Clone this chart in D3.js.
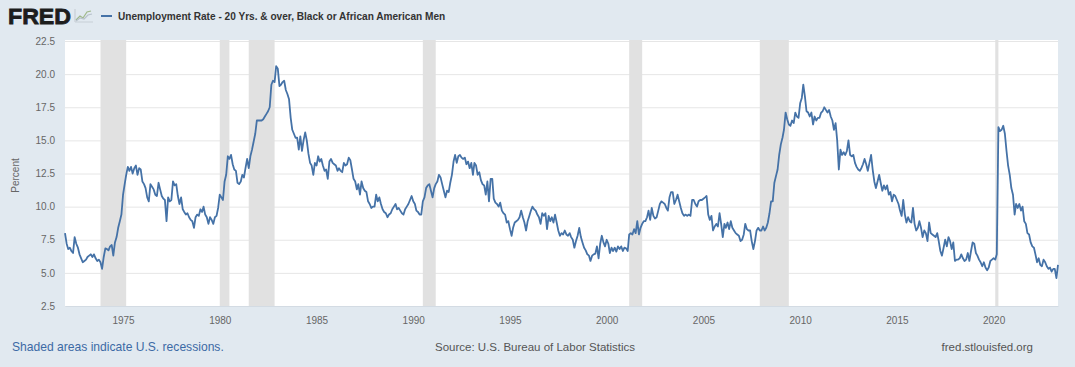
<!DOCTYPE html>
<html>
<head>
<meta charset="utf-8">
<script src="https://cdn.jsdelivr.net/npm/d3@7"></script>
<style>
  html, body { margin: 0; padding: 0; background: #e1e9f0; }
  svg { display: block; font-family: "Liberation Sans", Arial, sans-serif; }
</style>
</head>
<body>
<svg id="chart"></svg>
<script>
// monthly values, Jan 1972 .. May 2023
const startYear = 1972;
const rates1970s = [
  8.0, 7.2, 6.8, 6.9, 6.65, 6.5, 7.7, 7.2, 6.9, 6.4, 6.1, 5.8,
  5.9, 6.0, 6.2, 6.3, 6.4, 6.2, 6.4, 6.1, 5.9, 6.0, 5.8, 5.3,
  6.2, 6.85, 6.8, 6.7, 7.0, 7.1, 6.3, 7.3, 7.7, 8.4, 8.9, 9.4,
  10.9, 11.7, 12.4, 13.0, 12.7, 13.0, 12.5, 12.9, 13.1, 12.4, 12.9, 12.8,
  11.9, 11.7, 11.4, 10.7, 10.4, 11.7, 11.5, 11.3, 10.9, 10.8, 11.8, 11.3,
  10.8, 10.6, 10.5, 8.9, 10.7, 10.4, 10.5, 11.9, 11.6, 11.7, 10.8, 10.2,
  10.7, 9.8, 9.6, 9.4, 9.5, 9.2, 9.0, 8.9, 8.4, 9.2, 9.4, 9.3,
  9.8, 9.6, 10.0, 9.4, 9.2, 8.7, 9.2, 9.0, 8.7, 9.2, 9.3, 9.9
];
const rates1980s = [
  10.9, 10.7, 10.5, 11.9, 12.4, 13.8, 13.6, 13.9, 13.2, 12.8, 12.7, 11.8,
  11.7, 11.9, 12.4, 12.2, 12.9, 13.6, 12.9, 13.8, 14.3, 14.9, 15.5, 16.5,
  16.5, 16.5, 16.5, 16.6, 16.8, 17.0, 17.2, 17.5, 19.2, 19.5, 19.4, 20.6,
  20.4, 19.1, 19.2, 19.4, 19.5, 18.8, 18.5, 18.1, 16.7, 15.8, 15.5, 15.2,
  15.2, 14.3, 15.3, 14.2, 15.0, 15.6, 15.0, 14.0, 13.3, 13.1, 12.4, 13.3,
  13.1, 13.8, 13.4, 13.6, 13.1, 12.7, 12.8, 12.1, 13.4, 13.6, 13.3, 13.2,
  13.1, 12.7, 12.9, 12.7, 12.6, 13.3, 13.1, 13.2, 13.7, 13.5, 12.8, 12.1,
  11.9, 11.3, 11.7, 10.9, 11.9, 11.4, 11.2, 11.1, 10.4, 10.2, 9.9, 10.0,
  10.0, 10.9, 10.4, 10.7, 10.2, 9.8, 9.6, 9.5, 9.2, 9.4, 9.5, 9.8,
  10.0, 10.2, 9.8, 9.9, 9.7, 9.5, 9.4, 9.8, 10.0, 10.2, 10.5, 10.8
];
const rates1990s = [
  10.4, 10.2, 9.7, 9.6, 9.4, 9.4, 10.4, 10.7, 11.4, 11.6, 11.7, 11.2,
  10.7, 11.4, 11.7, 11.9, 12.4, 12.2, 11.7, 11.2, 10.7, 11.2, 11.1, 11.8,
  12.4, 13.4, 13.9, 13.3, 13.8, 13.9, 13.7, 13.6, 13.7, 13.2, 13.4, 12.9,
  13.3, 12.4, 13.3, 13.1, 12.4, 12.6, 12.0, 11.7, 11.6, 10.9, 11.9, 10.4,
  12.1, 12.1, 10.6, 10.3, 10.2, 10.0, 10.3, 9.7, 9.5, 9.4, 8.8, 8.9,
  8.3, 7.8, 8.4, 8.8, 8.9, 9.0, 9.2, 9.7, 9.2, 8.8, 8.2, 8.9,
  9.3, 9.7, 10.0, 9.8, 9.7, 9.4, 9.2, 8.7, 9.5, 9.3, 9.5, 8.3,
  9.3, 8.9, 9.2, 8.8, 9.4, 8.8, 8.2, 7.8, 8.0, 7.9, 8.2, 7.9,
  7.8, 8.0, 7.7, 7.5, 6.9, 7.4, 7.8, 8.4, 7.7, 7.3, 6.9, 6.7,
  6.4, 6.3, 5.9, 6.3, 6.4, 6.45, 7.0, 6.1, 7.2, 7.8, 7.3, 7.0
];
const rates2000s = [
  7.5, 7.2, 6.5, 6.9, 6.65, 6.9, 6.6, 7.0, 6.8, 7.0, 6.65, 6.9,
  6.85, 6.65, 7.9, 8.0, 7.9, 8.3, 8.0, 8.9, 7.9, 8.4, 8.7, 8.9,
  8.9, 9.2, 9.7, 9.0, 9.9, 9.3, 9.1, 9.2, 9.7, 10.2, 10.4, 10.3,
  10.2, 9.9, 9.7, 10.7, 11.1, 11.1, 10.2, 10.5, 10.9, 10.4, 9.9, 9.5,
  9.3, 9.4, 9.3, 9.4, 9.3, 10.5, 10.5, 10.2, 10.0, 10.4, 10.5, 10.5,
  10.6, 10.7, 10.8, 9.4, 9.0, 9.3, 8.2, 8.5, 8.7, 8.5, 9.5, 8.7,
  7.7, 8.7, 8.4, 8.8, 8.3, 8.9, 8.4, 8.2, 8.0, 7.9, 7.8, 7.4,
  7.5, 7.9, 8.7, 8.3, 8.2, 8.2, 7.4, 6.8, 7.4, 8.2, 8.4, 8.2,
  8.2, 8.5, 8.2, 8.4, 8.8, 9.5, 10.4, 10.4, 11.8, 12.3, 12.8, 13.9,
  14.7, 15.2, 15.8, 17.1, 16.6, 16.2, 16.1, 16.5, 16.3, 17.1, 16.8, 16.7
];
const rates2010s = [
  17.8, 18.2, 19.2, 18.3, 17.2, 17.1, 16.8, 17.1, 16.2, 16.8, 16.5, 16.7,
  16.7, 17.1, 17.2, 17.5, 17.3, 17.1, 17.3, 16.8, 16.5, 15.8, 16.3, 15.0,
  12.8, 14.3, 13.9, 14.1, 13.9, 14.2, 15.0, 13.9, 13.8, 13.9, 13.3, 13.0,
  12.8, 12.7, 12.9, 13.2, 13.6, 13.2, 12.7, 13.3, 13.9, 12.8, 11.9, 11.4,
  11.9, 12.4, 11.8, 11.2, 11.6, 11.3, 11.6, 10.9, 11.1, 10.4, 10.9, 10.8,
  10.5, 10.2, 9.7, 9.3, 10.5, 9.4, 8.8, 9.2, 8.9, 8.8, 9.9, 8.7,
  8.2, 8.4, 8.9, 8.4, 7.7, 8.2, 8.0, 7.4, 8.8, 8.0, 7.9, 7.8,
  7.7, 8.0, 7.4, 6.65, 6.3, 6.9, 7.5, 7.0, 7.7, 7.4, 6.8, 7.3,
  5.9, 6.0, 6.0, 6.1, 6.4, 6.1, 5.9, 6.0, 6.5, 5.9, 6.65, 7.3,
  7.2, 6.5, 6.3, 6.0, 5.8, 5.5, 5.8, 5.4, 5.2, 5.4, 5.9, 6.0
];
const rates2020s = [
  6.1, 6.0, 6.4, 16.0, 15.7, 15.8, 16.1, 15.5, 14.2, 13.1, 12.4, 11.4,
  10.9, 9.4, 10.2, 9.9, 10.2, 9.7, 10.0, 8.9, 8.7, 8.0, 7.9, 7.3,
  7.0, 6.9, 6.4, 5.8, 6.1, 5.6, 5.5, 6.0, 5.8, 5.5, 5.3, 5.4,
  5.1, 5.3, 5.3, 4.6, 5.6
];

// NBER recessions as FRED shades them (first month, last month)
const recessionStarts = ["1973-11", "1980-01", "1981-07", "1990-07", "2001-03", "2007-12", "2020-02"];
const recessionEnds   = ["1975-03", "1980-07", "1982-11", "1991-03", "2001-11", "2009-06", "2020-04"];

const yTicks = [2.5, 5, 7.5, 10, 12.5, 15, 17.5, 20, 22.5];
const xTickYears = [1975, 1980, 1985, 1990, 1995, 2000, 2005, 2010, 2015, 2020];

const seriesTitle = "Unemployment Rate - 20 Yrs. & over, Black or African American Men";

const width = 1075, height = 367;
const plotLeft = 65, plotRight = 1058, plotTop = 41, plotBottom = 306;

const rates = [...rates1970s, ...rates1980s, ...rates1990s, ...rates2000s, ...rates2010s, ...rates2020s];
const data = rates.map((v, i) => ({date: new Date(startYear, i, 1), value: v}));
const parseMonth = d3.timeParse("%Y-%m");

const svg = d3.select("#chart")
    .attr("width", width)
    .attr("height", height)
    .attr("viewBox", [0, 0, width, height]);

svg.append("rect")
    .attr("width", width).attr("height", height)
    .attr("fill", "#e1e9f0");

const x = d3.scaleTime()
    .domain([data[0].date, data[data.length - 1].date])
    .range([plotLeft, plotRight]);
const y = d3.scaleLinear()
    .domain([2.5, 22.5])
    .range([plotBottom, plotTop]);

// plot background
svg.append("rect")
    .attr("x", plotLeft).attr("y", plotTop - 1)
    .attr("width", plotRight - plotLeft).attr("height", plotBottom - plotTop + 1)
    .attr("fill", "#ffffff");

// grid + y labels
const yAxis = svg.append("g")
    .attr("transform", `translate(${plotLeft},0)`)
    .call(d3.axisLeft(y).tickValues(yTicks).tickFormat(d3.format(".1f"))
        .tickSize(-(plotRight - plotLeft)).tickPadding(10));
yAxis.select(".domain").remove();
yAxis.selectAll(".tick line").attr("stroke", "#e6e6e6");
yAxis.selectAll(".tick text")
    .attr("fill", "#666")
    .attr("font-size", 10)
    .attr("font-family", "Liberation Sans, Arial, sans-serif");

// recession shading
svg.append("g")
    .selectAll("rect")
    .data(recessionStarts.map((s, i) => [parseMonth(s), parseMonth(recessionEnds[i])]))
    .join("rect")
    .attr("x", d => x(d[0]))
    .attr("y", plotTop - 1)
    .attr("width", d => x(d[1]) - x(d[0]))
    .attr("height", plotBottom - plotTop + 1)
    .attr("fill", "#e1e1e1");

// x axis
const xAxis = svg.append("g")
    .attr("transform", `translate(0,${plotBottom})`)
    .call(d3.axisBottom(x).tickValues(xTickYears.map(yr => new Date(yr, 0, 1)))
        .tickFormat(d3.timeFormat("%Y")).tickSize(0).tickPadding(11));
xAxis.select(".domain").attr("stroke", "#d3dbe3");
xAxis.selectAll(".tick text")
    .attr("fill", "#666")
    .attr("font-size", 10)
    .attr("font-family", "Liberation Sans, Arial, sans-serif");

// the series
const line = d3.line()
    .x(d => x(d.date))
    .y(d => y(d.value));
svg.append("path")
    .datum(data)
    .attr("fill", "none")
    .attr("stroke", "#4572a7")
    .attr("stroke-width", 1.8)
    .attr("stroke-linejoin", "round")
    .attr("d", line);

// y title
svg.append("text")
    .attr("transform", `translate(19,${(plotTop + plotBottom) / 2 + 2}) rotate(-90)`)
    .attr("text-anchor", "middle")
    .attr("font-size", 10)
    .attr("fill", "#666")
    .text("Percent");

// header: logo, legend, title
svg.append("text")
    .attr("x", 8).attr("y", 24)
    .attr("font-size", 22)
    .attr("font-weight", "bold")
    .attr("fill", "#1d1d1d")
    .attr("stroke", "#1d1d1d")
    .attr("stroke-width", 0.8)
    .attr("textLength", 63)
    .attr("lengthAdjust", "spacingAndGlyphs")
    .text("FRED");
const icon = svg.append("g").attr("fill", "none").attr("stroke-width", 1.2);
icon.append("path").attr("d", "M75,22 L93,22 M75,22 L75,9").attr("stroke", "#c8cfd6");
icon.append("path").attr("d", "M76,20 L80,16 L83,18 L87,12 L91,11").attr("stroke", "#9fb88a");
icon.append("path").attr("d", "M76,21 L80,18 L84,19 L88,15 L92,14").attr("stroke", "#b8c2cc");

svg.append("line")
    .attr("x1", 101).attr("x2", 112)
    .attr("y1", 16).attr("y2", 16)
    .attr("stroke", "#4572a7")
    .attr("stroke-width", 2);
svg.append("text")
    .attr("x", 118).attr("y", 19.5)
    .attr("font-size", 10.1)
    .attr("font-weight", "bold")
    .attr("fill", "#333")
    .text(seriesTitle);

// footer
const footer = svg.append("g");
footer.append("text")
    .attr("x", 12).attr("y", 351)
    .attr("font-size", 12.1)
    .attr("fill", "#3c6aa5")
    .text("Shaded areas indicate U.S. recessions.");
footer.append("text")
    .attr("x", 435).attr("y", 351)
    .attr("font-size", 11.5)
    .attr("fill", "#555")
    .text("Source: U.S. Bureau of Labor Statistics");
footer.append("text")
    .attr("x", 1033).attr("y", 351)
    .attr("font-size", 11.5)
    .attr("text-anchor", "end")
    .attr("fill", "#555")
    .text("fred.stlouisfed.org");
</script>
</body>
</html>
